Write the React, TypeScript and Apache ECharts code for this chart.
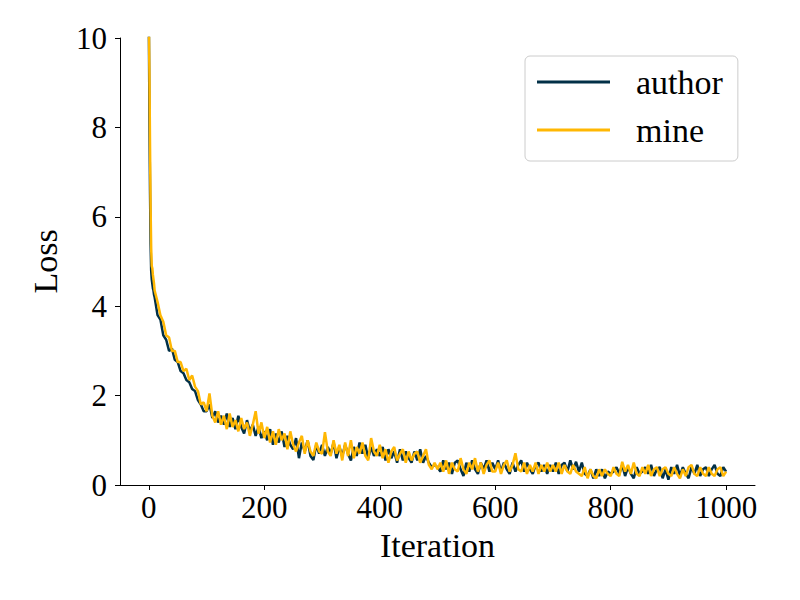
import React, { useEffect, useRef } from "react";
import * as echarts from "echarts";

const ITERATIONS = [
  0, 1, 2, 3, 4, 5, 6, 7, 8, 9,
  10, 15, 20, 25, 30, 35, 40, 45, 50, 55, 60, 65, 70, 75, 80, 85, 90, 95,
  100, 105, 110, 115, 120, 125, 130, 135, 140, 145, 150, 155, 160, 165, 170, 175, 180, 185, 190, 195,
  200, 205, 210, 215, 220, 225, 230, 235, 240, 245, 250, 255, 260, 265, 270, 275, 280, 285, 290, 295,
  300, 305, 310, 315, 320, 325, 330, 335, 340, 345, 350, 355, 360, 365, 370, 375, 380, 385, 390, 395,
  400, 405, 410, 415, 420, 425, 430, 435, 440, 445, 450, 455, 460, 465, 470, 475, 480, 485, 490, 495,
  500, 505, 510, 515, 520, 525, 530, 535, 540, 545, 550, 555, 560, 565, 570, 575, 580, 585, 590, 595,
  600, 605, 610, 615, 620, 625, 630, 635, 640, 645, 650, 655, 660, 665, 670, 675, 680, 685, 690, 695,
  700, 705, 710, 715, 720, 725, 730, 735, 740, 745, 750, 755, 760, 765, 770, 775, 780, 785, 790, 795,
  800, 805, 810, 815, 820, 825, 830, 835, 840, 845, 850, 855, 860, 865, 870, 875, 880, 885, 890, 895,
  900, 905, 910, 915, 920, 925, 930, 935, 940, 945, 950, 955, 960, 965, 970, 975, 980, 985, 990, 995, 1000,
];

const AUTHOR_LOSS = [
  10.3, 8.2, 6.6, 5.4, 4.8, 4.6, 4.5, 4.4, 4.35, 4.25,
  4.2, 3.8, 3.7, 3.35, 3.25, 3.0, 3.05, 2.8, 2.75, 2.55, 2.5, 2.35, 2.3, 2.15, 2.1, 1.9, 1.8, 1.65,
  1.65, 1.8, 1.5, 1.65, 1.4, 1.55, 1.35, 1.6, 1.3, 1.5, 1.25, 1.55, 1.3, 1.15, 1.45, 1.2, 1.35, 1.1, 1.3, 1.05,
  1.2, 1.0, 1.25, 0.9, 1.15, 0.95, 1.2, 0.85, 1.1, 0.9, 0.8, 1.05, 0.6, 0.95, 0.75, 1.0, 0.65, 0.56, 0.9, 0.7,
  0.9, 0.65, 0.85, 0.7, 0.95, 0.6, 0.85, 0.65, 0.9, 0.7, 0.55, 0.85, 0.65, 0.95, 0.7, 0.9, 0.6, 0.85, 0.65, 0.8,
  0.65, 0.85, 0.55, 0.8, 0.6, 0.75, 0.5, 0.8, 0.55, 0.75, 0.6, 0.5, 0.75, 0.55, 0.8, 0.5, 0.65, 0.5, 0.4, 0.45,
  0.4, 0.3, 0.55, 0.35, 0.5, 0.25, 0.5, 0.55, 0.35, 0.2, 0.5, 0.3, 0.55, 0.35, 0.25, 0.5, 0.35, 0.55, 0.3, 0.5,
  0.35, 0.55, 0.3, 0.5, 0.35, 0.25, 0.5, 0.3, 0.45, 0.55, 0.3, 0.5, 0.35, 0.25, 0.45, 0.5, 0.3, 0.45, 0.25, 0.45,
  0.3, 0.5, 0.25, 0.45, 0.5, 0.3, 0.55, 0.35, 0.52, 0.3, 0.5, 0.25, 0.2, 0.35, 0.15, 0.35, 0.2, 0.35, 0.15, 0.3,
  0.25, 0.3, 0.4, 0.25, 0.45, 0.2, 0.4, 0.25, 0.15, 0.4, 0.25, 0.3, 0.4, 0.25, 0.45, 0.2, 0.35, 0.4, 0.15, 0.35,
  0.12, 0.4, 0.25, 0.45, 0.2, 0.4, 0.25, 0.15, 0.4, 0.25, 0.45, 0.2, 0.35, 0.4, 0.2, 0.35, 0.45, 0.25, 0.2, 0.4, 0.3,
];

const MINE_LOSS = [
  10.3, 9.2, 7.6, 6.2, 5.3, 4.9, 4.85, 4.7, 4.6, 4.5,
  4.35, 4.1, 3.8, 3.65, 3.35, 3.3, 3.0, 3.0, 2.75, 2.75, 2.55, 2.6, 2.35, 2.45, 2.2, 2.1, 1.8, 1.85,
  1.65, 2.05, 1.55, 1.4, 1.65, 1.35, 1.55, 1.25, 1.6, 1.3, 1.45, 1.2, 1.5, 1.25, 1.4, 1.1, 1.35, 1.65, 1.15, 1.4,
  1.05, 1.3, 0.95, 1.2, 0.9, 1.25, 1.0, 1.15, 0.8, 1.2, 0.9, 0.75, 0.95, 1.1, 0.7, 1.0, 0.75, 0.65, 0.95, 0.75,
  0.7, 1.18, 0.75, 0.65, 1.0, 0.7, 0.9, 0.55, 0.95, 0.65, 1.0, 0.6, 0.85, 0.7, 0.95, 0.65, 0.55, 1.05, 0.75, 0.65,
  0.9, 0.6, 0.8, 0.5, 0.75, 0.85, 0.55, 0.7, 0.8, 0.5, 0.75, 0.55, 0.7, 0.75, 0.5, 0.65, 0.8, 0.45, 0.35, 0.5,
  0.35, 0.5, 0.3, 0.55, 0.25, 0.5, 0.35, 0.3, 0.6, 0.35, 0.25, 0.5, 0.35, 0.6, 0.3, 0.5, 0.25, 0.45, 0.55, 0.3,
  0.3, 0.5, 0.25, 0.45, 0.55, 0.3, 0.45, 0.71, 0.35, 0.3, 0.5, 0.25, 0.45, 0.3, 0.5, 0.25, 0.45, 0.3, 0.5, 0.3,
  0.45, 0.3, 0.5, 0.25, 0.45, 0.3, 0.25, 0.45, 0.3, 0.25, 0.2, 0.4, 0.15, 0.35, 0.2, 0.15, 0.35, 0.2, 0.35, 0.25,
  0.2, 0.4, 0.25, 0.2, 0.52, 0.3, 0.45, 0.25, 0.5, 0.25, 0.2, 0.4, 0.25, 0.45, 0.2, 0.35, 0.4, 0.2, 0.35, 0.4,
  0.25, 0.2, 0.4, 0.25, 0.15, 0.35, 0.2, 0.4, 0.45, 0.25, 0.2, 0.4, 0.25, 0.2, 0.4, 0.25, 0.2, 0.35, 0.4, 0.2, 0.3,
];

const X_TICKS = [0, 200, 400, 600, 800, 1000];
const SERIES_NAMES = ["author", "mine"];
const COLORS = ["#023047", "#ffb703"];

const FONT = "Liberation Serif";

export default function App() {
  const ref = useRef<HTMLDivElement>(null);

  useEffect(() => {
    if (!ref.current) return;
    const chart = echarts.init(ref.current, undefined, { renderer: "svg" });
    const seriesData = [AUTHOR_LOSS, MINE_LOSS].map((vals) =>
      ITERATIONS.map((it, i) => [it, vals[i]])
    );
    chart.setOption({
      animation: false,
      backgroundColor: "#ffffff",
      textStyle: { fontFamily: FONT },
      grid: { left: 120, right: 45, top: 38, bottom: 115 },
      legend: {
        orient: "vertical",
        left: 525,
        top: 56,
        padding: [9, 15, 14, 12],
        itemGap: 14,
        itemWidth: 73,
        itemHeight: 3,
        icon: "rect",
        backgroundColor: "rgba(255,255,255,0.8)",
        borderColor: "#cccccc",
        borderWidth: 1,
        borderRadius: 5,
        textStyle: {
          fontFamily: FONT,
          fontSize: 34,
          lineHeight: 34,
          color: "#000",
          padding: [0, 0, 0, 21],
        },
        data: SERIES_NAMES,
      },
      xAxis: {
        type: "value",
        min: -50,
        max: 1050,
        name: "Iteration",
        nameLocation: "middle",
        nameGap: 43,
        nameTextStyle: { fontFamily: FONT, fontSize: 34, color: "#000" },
        axisLine: { onZero: false, lineStyle: { color: "#000", width: 1 } },
        axisTick: { show: true, length: 5, inside: false, customValues: X_TICKS, lineStyle: { color: "#000" } },
        axisLabel: {
          customValues: X_TICKS,
          fontFamily: FONT,
          fontSize: 31,
          color: "#000",
          margin: 7,
          formatter: (v: number) => String(v),
        },
        splitLine: { show: false },
      },
      yAxis: {
        type: "value",
        min: 0,
        max: 10,
        interval: 2,
        name: "Loss",
        nameLocation: "middle",
        nameGap: 58,
        nameRotate: 90,
        nameTextStyle: { fontFamily: FONT, fontSize: 34, color: "#000" },
        axisLine: { show: true, onZero: false, lineStyle: { color: "#000", width: 1 } },
        axisTick: { show: true, length: 5, inside: false, lineStyle: { color: "#000" } },
        axisLabel: { fontFamily: FONT, fontSize: 31, color: "#000", margin: 13, formatter: (v: number) => String(v) },
        splitLine: { show: false },
      },
      series: SERIES_NAMES.map((name, k) => ({
        name,
        type: "line",
        data: seriesData[k],
        showSymbol: false,
        symbol: "none",
        clip: true,
        color: COLORS[k],
        lineStyle: { width: 2.5, color: COLORS[k] },
        z: 2 + k,
      })),
    });
    return () => chart.dispose();
  }, []);

  return (
    <div
      ref={ref}
      style={{ position: "fixed", left: 0, top: 0, width: 800, height: 600 }}
    />
  );
}
